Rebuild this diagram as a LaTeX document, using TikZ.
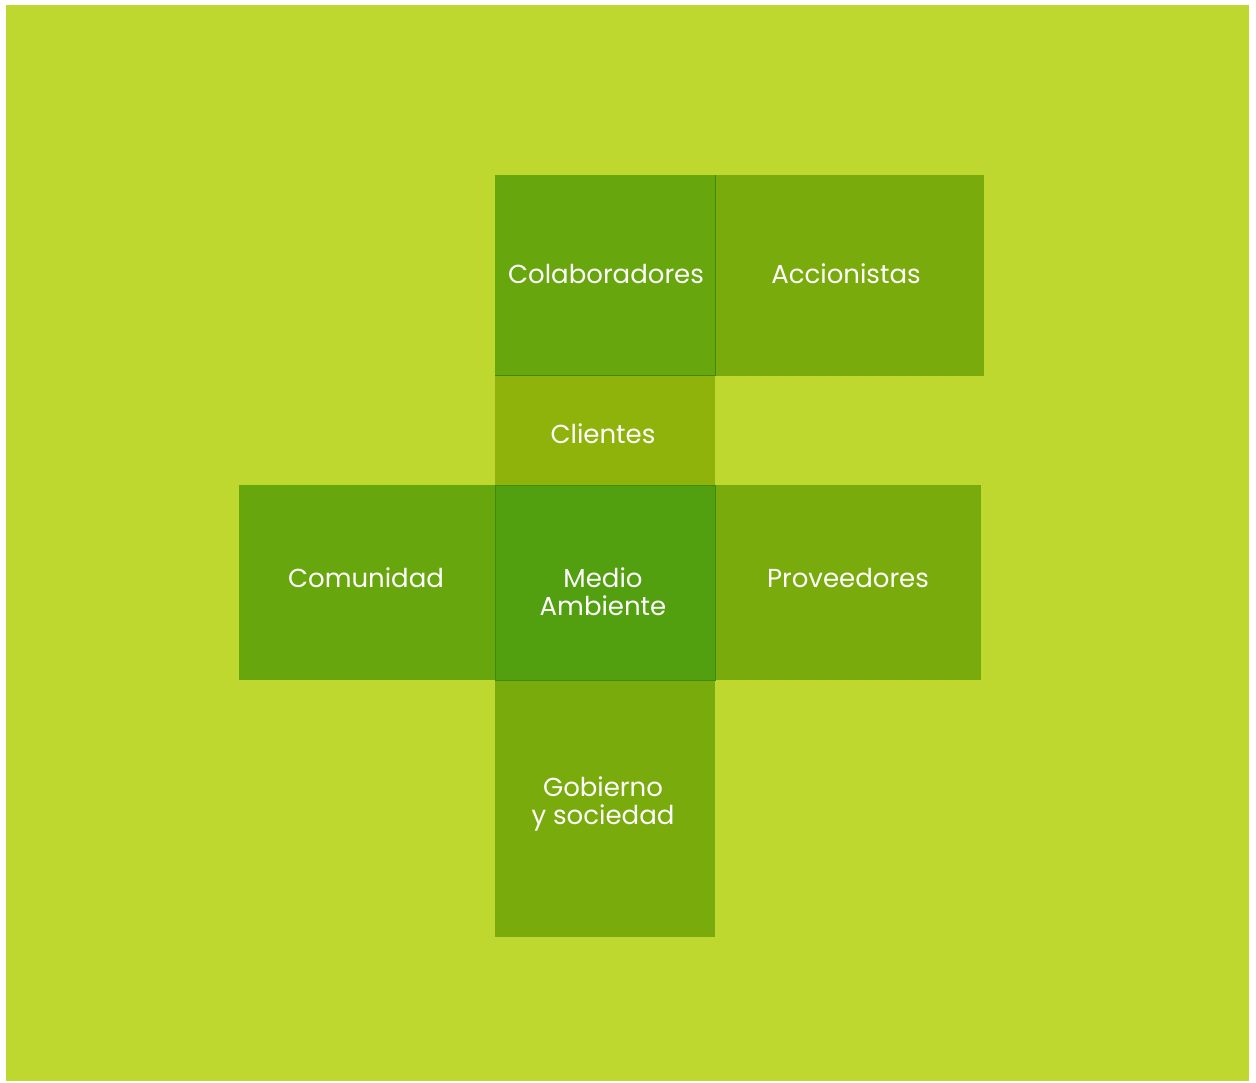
\documentclass[tikz,border=0pt]{standalone}
\usepackage{fontspec}
\setmainfont{Poppins}
\definecolor{bgc}{HTML}{BED82F}
\definecolor{cola}{HTML}{67A60C}
\definecolor{acci}{HTML}{7AAB0C}
\definecolor{clie}{HTML}{8FB30A}
\definecolor{medi}{HTML}{529F0F}
\definecolor{edge}{HTML}{3E8B0A}
\tikzset{
  box/.style={rectangle, inner sep=0pt, outer sep=0pt, text=white, align=center,
    font=\fontsize{26}{28}\selectfont},
}
\begin{document}
\begin{tikzpicture}[x=1pt,y=-1pt]
\useasboundingbox (0,0) rectangle (1256,1082);
\fill[bgc] (6,5) rectangle (1249,1081);
% boxes
\fill[acci] (715,175) rectangle (984,376);
\fill[cola] (495,175) rectangle (715,375);
\fill[clie] (495,375) rectangle (715,485);
\fill[cola] (239,485) rectangle (495,680);
\fill[acci] (715,485) rectangle (981,680);
\fill[acci] (495,680) rectangle (715,937);
\fill[medi] (495,485) rectangle (715,680);
\draw[edge, line width=1pt] (495,375) -- (715,375) -- (715,175);
\draw[edge, line width=1pt] (495,485) rectangle (715,680);
% labels
\node[box] (colab) at (606,274) {Colaboradores};
\node[box] (accio) at (846,274) {Accionistas};
\node[box] (clien) at (603,434) {Clientes};
\node[box] (comun) at (366,578) {Comunidad};
\node[box] (medio) at (603,592) {Medio\\Ambiente};
\node[box] (prove) at (848,578) {Proveedores};
\node[box] (gobie) at (603,804) {Gobierno\\y sociedad};
\end{tikzpicture}
\end{document}
